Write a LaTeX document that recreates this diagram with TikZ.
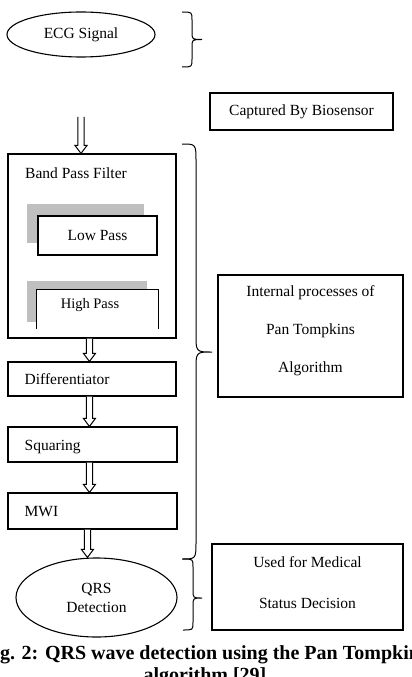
\documentclass[tikz,border=0pt]{standalone}
\usepackage{fontspec}
\setmainfont{Liberation Serif}
\usetikzlibrary{shapes.geometric,calc}
\definecolor{shadegray}{RGB}{191,191,191}
\newcommand{\hollowarrow}[2]{%
  \draw[holl] ($(#1)+(-3.2,0)$) -- ($(#2)+(-3.2,8)$) -- ($(#2)+(-6,8)$) -- (#2)
    -- ($(#2)+(6,8)$) -- ($(#2)+(3.2,8)$) -- ($(#1)+(3.2,0)$);}
\begin{document}
\begin{tikzpicture}[x=1bp,y=1bp,
  every node/.style={font=\fontsize{15.5bp}{18bp}\selectfont, inner sep=0pt},
  box/.style={draw, line width=1.1bp, fill=white},
  ell/.style={draw, ellipse, line width=1.1bp},
  shade/.style={fill=shadegray, draw=none},
  bracel/.style={line width=1bp},
  holl/.style={line width=1bp, fill=white},
  captxt/.style={font=\bfseries\fontsize{20bp}{22bp}\selectfont, anchor=base}]
\useasboundingbox (0,0) rectangle (411,-677);
\clip (0,0) rectangle (411,-677);

% top
\node[ell, minimum width=148bp, minimum height=45bp] (ecg) at (81,-34.5) {ECG Signal};
\node[box, minimum width=183bp, minimum height=37bp] (cap) at (301.5,-111.5) {Captured By Biosensor};

% band pass filter
\node[box, minimum width=168bp, minimum height=184bp] (bpf) at (92,-246) {};
\node[anchor=base west] (bpft) at (25,-178) {Band Pass Filter};
\node[shade, minimum width=117bp, minimum height=39bp] (lpsh) at (85.5,-223.5) {};
\node[box, minimum width=119bp, minimum height=39bp] (lp) at (97.5,-235.5) {Low Pass};
\node[shade, minimum width=120bp, minimum height=41bp] (hpsh) at (87,-301.5) {};
\node[fill=white, minimum width=121bp, minimum height=39bp] (hp) at (97.5,-309.5) {};
\draw[line width=1.1bp] (hp.south west) -- (hp.north west) -- (hp.north east) -- (hp.south east);
\node[font=\fontsize{14.5bp}{17bp}\selectfont] (hpt) at (90,-305) {High Pass};

% chain
\node[box, minimum width=168bp, minimum height=34bp] (diff) at (92,-379) {};
\node[anchor=base west] (difft) at ($(diff.west)+(17,-5.5)$) {Differentiator};
\node[box, minimum width=169bp, minimum height=35bp] (sq) at (92.5,-444.5) {};
\node[anchor=base west] (sqt) at ($(sq.west)+(17,-5.5)$) {Squaring};
\node[box, minimum width=169bp, minimum height=36bp] (mwi) at (92.5,-511) {};
\node[anchor=base west] (mwit) at ($(mwi.west)+(17,-5.5)$) {MWI};
\node[ell, minimum width=161bp, minimum height=79bp, align=center,
      font=\fontsize{15.5bp}{19bp}\selectfont] (qrs) at (96.5,-597.5) {QRS\\Detection};

% right boxes
\node[box, minimum width=185bp, minimum height=122bp] (int) at (310.5,-336) {};
\node[align=center, font=\fontsize{15.5bp}{38bp}\selectfont] (intt) at (310.5,-331) {Internal processes of\\Pan Tompkins\\Algorithm};
\node[box, minimum width=191bp, minimum height=86bp] (used) at (307.5,-587) {};
\node[align=center, font=\fontsize{15.5bp}{41bp}\selectfont] (usedt) at (307.5,-582.5) {Used for Medical\\Status Decision};

% arrows
\coordinate (in) at (81,-117);
\coordinate (a1e) at (in |- bpf.north);
\hollowarrow{in}{a1e}
\coordinate (a2s) at ($(bpf.south west)+(82,0)$);
\coordinate (a2e) at (a2s |- diff.north);
\hollowarrow{a2s}{a2e}
\coordinate (a3s) at (a2s |- diff.south);
\coordinate (a3e) at (a2s |- sq.north);
\hollowarrow{a3s}{a3e}
\coordinate (a4s) at (a2s |- sq.south);
\coordinate (a4e) at (a2s |- mwi.north);
\hollowarrow{a4s}{a4e}
\coordinate (a5s) at ($(mwi.south west)+(80,0)$);
\coordinate (a5e) at (a5s |- qrs.north);
\hollowarrow{a5s}{a5e}

% braces
\draw[bracel] (182,-12) .. controls (192,-12) .. (192,-20) -- (192,-31.5)
  .. controls (192,-39.5) .. (202,-39.5) .. controls (192,-39.5) .. (192,-47.5)
  -- (192,-59) .. controls (192,-67) .. (182,-67);
\draw[bracel] (182,-144) .. controls (196,-144) .. (196,-162) -- (196,-334)
  .. controls (196,-352) .. (212,-352) .. controls (196,-352) .. (196,-370)
  -- (196,-541) .. controls (196,-559) .. (182,-559);
\draw[bracel] (183,-559) .. controls (193,-559) .. (193,-567) -- (193,-590)
  .. controls (193,-598) .. (202,-598) .. controls (193,-598) .. (193,-606)
  -- (193,-622) .. controls (193,-630) .. (183,-630);

% caption
\node[captxt] (cap1) at (205,-659) {Fig. 2: QRS wave detection using the Pan Tompkins};
\node[captxt] (cap2) at (205,-681) {algorithm [29]};
\end{tikzpicture}
\end{document}
